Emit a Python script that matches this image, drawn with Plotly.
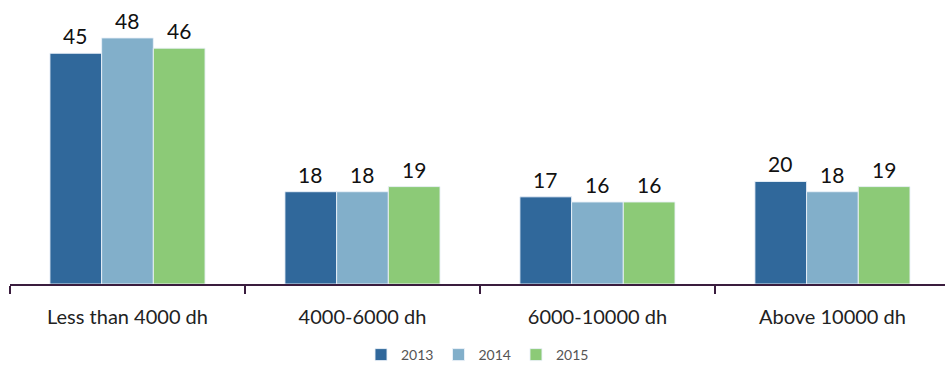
import plotly.graph_objects as go

categories = ["Less than 4000 dh", "4000-6000 dh", "6000-10000 dh", "Above 10000 dh"]
years = ["2013", "2014", "2015"]
values_2013 = [45, 18, 17, 20]
values_2014 = [48, 18, 16, 18]
values_2015 = [46, 19, 16, 19]

series = [values_2013, values_2014, values_2015]
colors = ["#30689B", "#82AFCA", "#8CCA77"]
FONT = "Lato"

fig = go.Figure()
for name, vals, col in zip(years, series, colors):
    fig.add_trace(go.Bar(
        x=categories, y=vals, name=name,
        marker=dict(color=col, line=dict(color="rgba(235,242,250,0.9)", width=1)),
        hoverinfo="skip",
    ))

# value labels above each bar, offset by bar slot within the group
n = len(years)
bar_px = 52
for i, vals in enumerate(series):
    for cat, v in zip(categories, vals):
        fig.add_annotation(
            x=cat, y=v, text=str(v), showarrow=False,
            xref="x", yref="y", yanchor="bottom",
            xshift=(i - (n - 1) / 2) * bar_px, yshift=3,
            font=dict(family=FONT, size=21, color="#111111"),
        )

fig.update_layout(
    width=945, height=371,
    margin=dict(l=10, r=0, t=0, b=85),
    paper_bgcolor="white", plot_bgcolor="white",
    barmode="group", bargap=0.34, bargroupgap=0,
    showlegend=True,
    legend=dict(orientation="h", x=0.5, xanchor="center", y=-0.195, yanchor="top",
                font=dict(family=FONT, size=14, color="#555555"),
                itemwidth=30, traceorder="normal"),
    font=dict(family=FONT),
)
fig.update_xaxes(
    type="category", range=[-0.5, 3.479],
    showline=True, linecolor="#3A1D3E", linewidth=2,
    ticks="outside", tickson="boundaries", ticklen=8, tickwidth=2, tickcolor="#3A1D3E",
    tickfont=dict(family=FONT, size=20, color="#222222"),
    ticklabelstandoff=14,
    showgrid=False, zeroline=False,
)
fig.update_yaxes(range=[0, 55.4], visible=False, showgrid=False, zeroline=False)

fig.write_html("out.html")
